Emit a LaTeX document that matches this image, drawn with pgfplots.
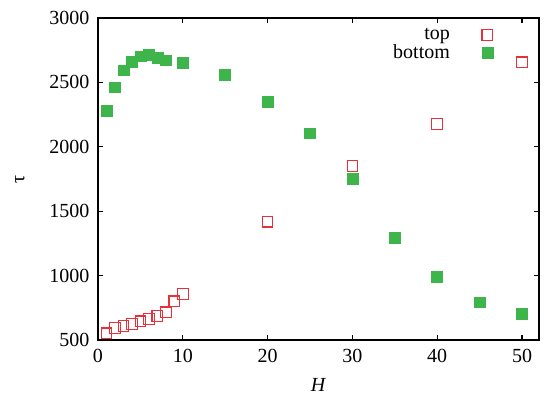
\documentclass[border=0pt]{standalone}
\usepackage{fontspec}
\setmainfont{Liberation Serif}
\usepackage{pgfplots}
\pgfplotsset{compat=1.18}
\definecolor{topred}{RGB}{232,48,58}
\definecolor{botgreen}{RGB}{61,181,74}
\begin{document}
\begin{tikzpicture}[font=\fontsize{15}{18}\selectfont]
\useasboundingbox (-73.5pt,-45.75pt) rectangle (334.5pt,255pt);
\begin{axis}[
  scale only axis,
  width=330.75pt, height=241.5pt,
  xmin=0, xmax=52, ymin=500, ymax=3000,
  xtick={0,10,20,30,40,50},
  ytick={500,1000,1500,2000,2500,3000},
  tick pos=both, tick align=inside,
  major tick length=4pt,
  axis line style={line width=1pt},
  every tick/.style={black, line width=0.8pt},
  /pgf/number format/assume math mode=true,
  /pgf/number format/1000 sep={},
  xlabel={\textit{H}}, ylabel={τ},
  xlabel style={at={(axis description cs:0.5,-0.14)}, anchor=center},
  ylabel style={at={(axis description cs:-0.177,0.5)}, anchor=center},
  yticklabel style={xshift=-3pt},
  xticklabel style={yshift=-3pt},
  legend plot pos=right,
  legend cell align=right,
  legend style={draw=none, fill=none, at={(rel axis cs:0.905,0.985)}, anchor=north east, row sep=-2pt, column sep=22pt, font=\fontsize{15}{18}\selectfont},
]
\addplot[only marks, mark=square, mark size=4pt, color=topred, mark options={line width=0.8pt}] coordinates {
(1,552) (2,591) (3,611) (4,622) (5,645) (6,661) (7,686) (8,715) (9,800) (10,859)
(20,1419) (30,1851) (40,2177) (50,2656)
};
\addlegendentry{top}
\addplot[only marks, mark=square*, mark size=4.1pt, color=botgreen, mark options={draw=botgreen, fill=botgreen}] coordinates {
(1,2283) (2,2462) (3,2594) (4,2658) (5,2703) (6,2718) (7,2689) (8,2672) (10,2651)
(15,2557) (20,2353) (25,2105) (30,1755) (35,1297) (40,989) (45,793) (50,702)
};
\addlegendentry{bottom}
\end{axis}
\end{tikzpicture}
\end{document}
